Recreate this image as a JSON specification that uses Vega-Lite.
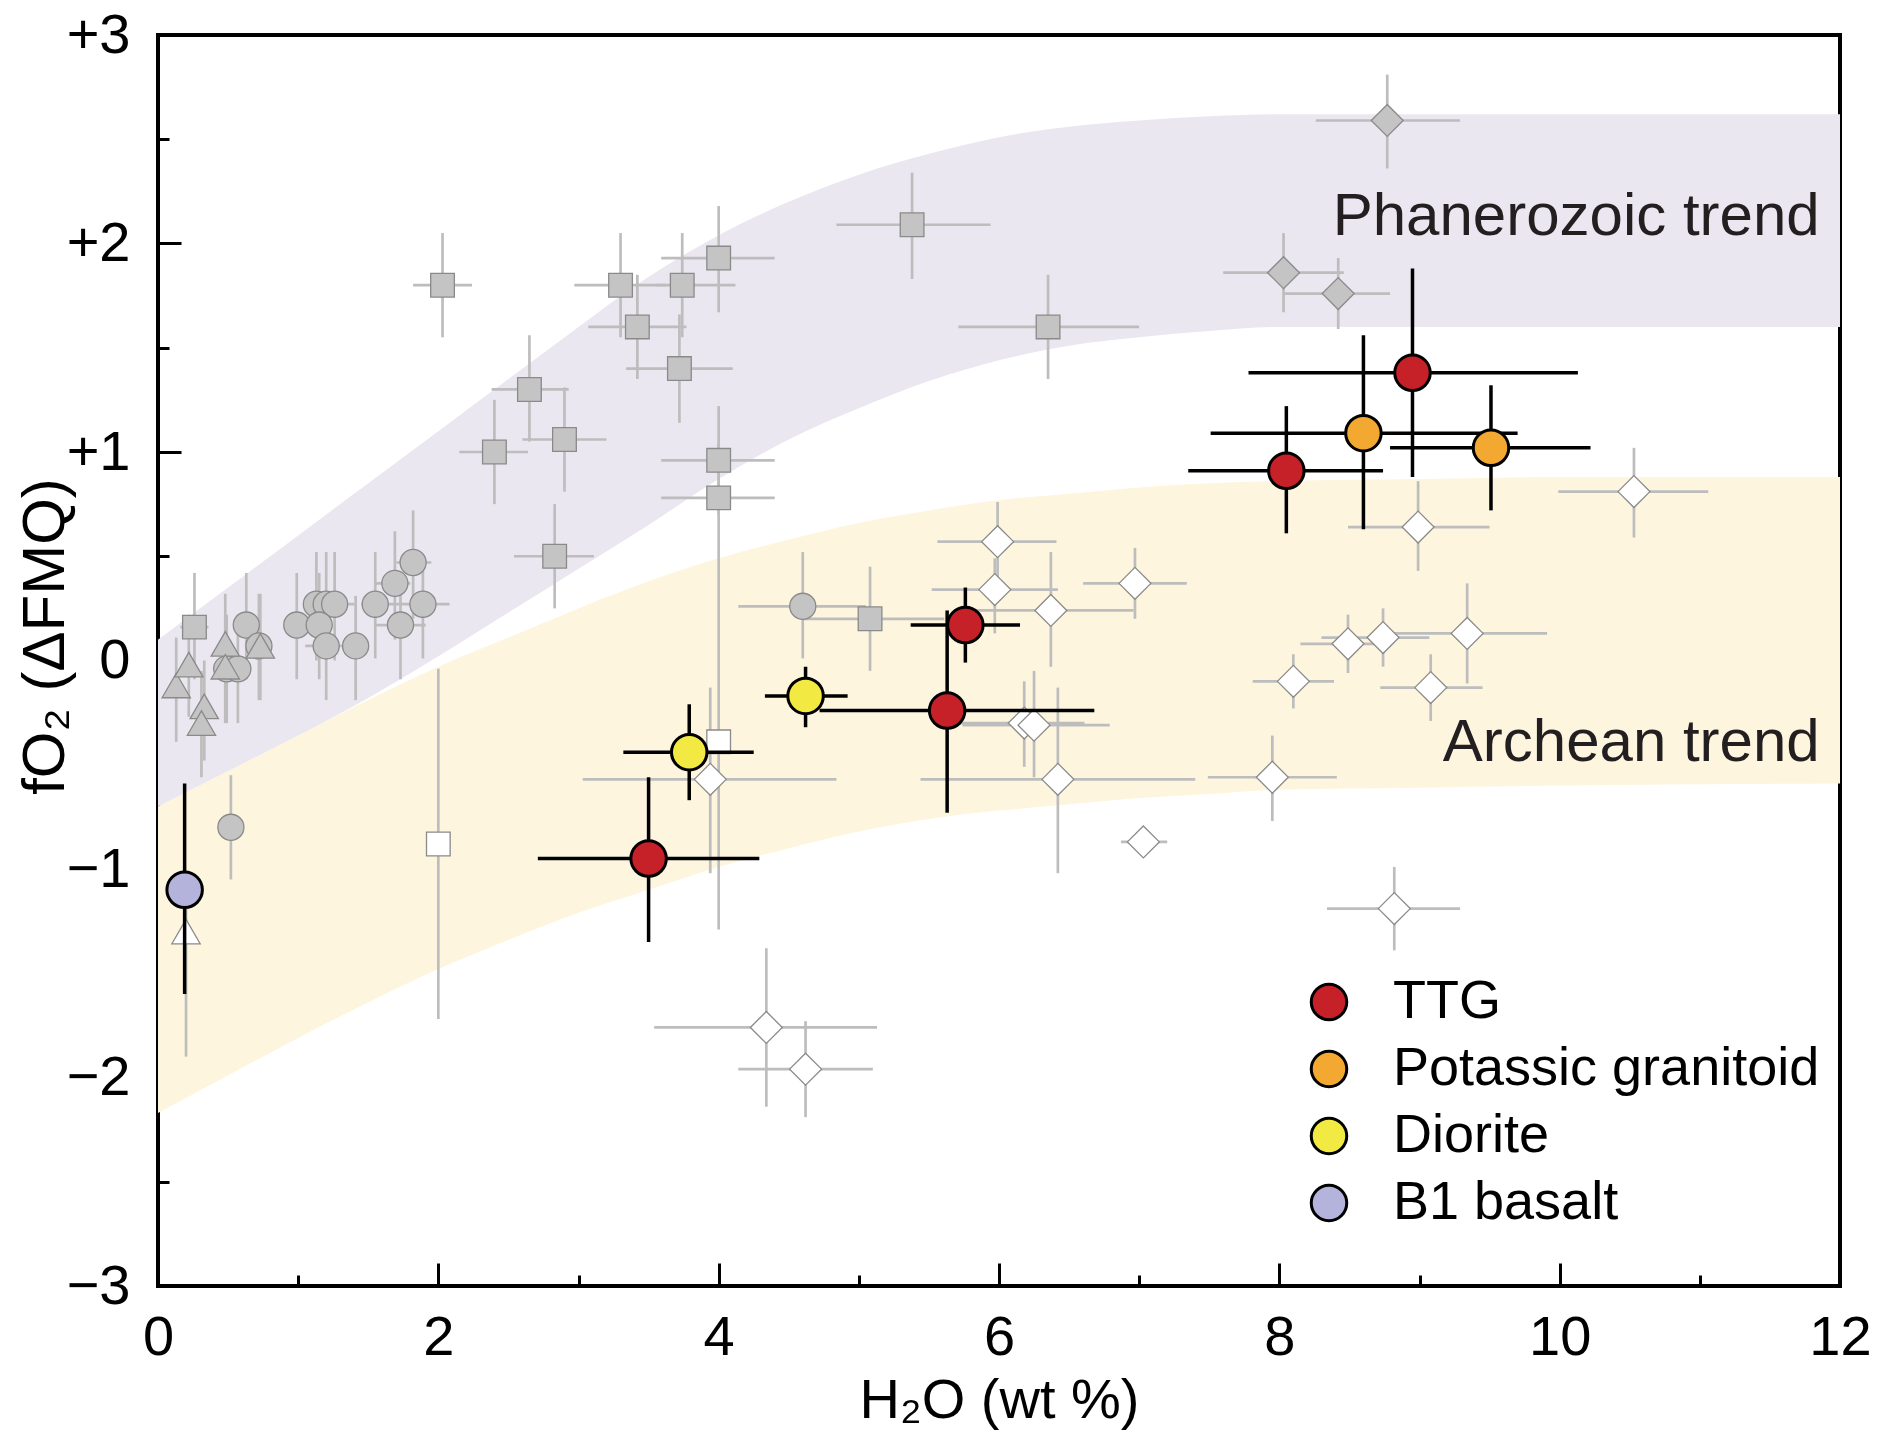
{
  "$schema": "https://vega.github.io/schema/vega-lite/v6.json",
  "width": 1682,
  "height": 1251,
  "autosize": {"type": "none"},
  "padding": {"left": 158, "top": 35, "right": 42, "bottom": 153},
  "background": "white",
  "config": {
    "font": "Liberation Sans",
    "view": {"stroke": "black", "strokeWidth": 4},
    "axis": {"grid": false, "domain": false, "labelFlush": false, "labelColor": "black", "titleColor": "black", "titleFontWeight": "normal", "tickColor": "black", "tickWidth": 3}
  },
  "resolve": {"axis": {"x": "independent", "y": "independent"}},
  "datasets": {
    "band": [
      {"band": "P", "x": 0, "lo": -0.70, "hi": 0.10},
      {"band": "P", "x": 0.5, "lo": -0.53, "hi": 0.35},
      {"band": "P", "x": 1, "lo": -0.36, "hi": 0.60},
      {"band": "P", "x": 1.5, "lo": -0.18, "hi": 0.85},
      {"band": "P", "x": 2, "lo": 0.02, "hi": 1.10},
      {"band": "P", "x": 2.5, "lo": 0.23, "hi": 1.35},
      {"band": "P", "x": 3, "lo": 0.44, "hi": 1.60},
      {"band": "P", "x": 3.5, "lo": 0.65, "hi": 1.84},
      {"band": "P", "x": 4, "lo": 0.87, "hi": 2.04},
      {"band": "P", "x": 4.5, "lo": 1.06, "hi": 2.20},
      {"band": "P", "x": 5, "lo": 1.21, "hi": 2.33},
      {"band": "P", "x": 5.5, "lo": 1.34, "hi": 2.43},
      {"band": "P", "x": 6, "lo": 1.44, "hi": 2.51},
      {"band": "P", "x": 6.5, "lo": 1.51, "hi": 2.56},
      {"band": "P", "x": 7, "lo": 1.55, "hi": 2.59},
      {"band": "P", "x": 7.5, "lo": 1.58, "hi": 2.61},
      {"band": "P", "x": 8, "lo": 1.60, "hi": 2.62},
      {"band": "P", "x": 9, "lo": 1.60, "hi": 2.62},
      {"band": "P", "x": 10, "lo": 1.60, "hi": 2.62},
      {"band": "P", "x": 12, "lo": 1.60, "hi": 2.62},
      {"band": "A", "x": 0, "lo": -2.17, "hi": -0.70},
      {"band": "A", "x": 0.5, "lo": -1.99, "hi": -0.53},
      {"band": "A", "x": 1, "lo": -1.81, "hi": -0.36},
      {"band": "A", "x": 1.5, "lo": -1.64, "hi": -0.19},
      {"band": "A", "x": 2, "lo": -1.48, "hi": -0.03},
      {"band": "A", "x": 2.5, "lo": -1.34, "hi": 0.11},
      {"band": "A", "x": 3, "lo": -1.21, "hi": 0.25},
      {"band": "A", "x": 3.5, "lo": -1.10, "hi": 0.38},
      {"band": "A", "x": 4, "lo": -0.99, "hi": 0.49},
      {"band": "A", "x": 4.5, "lo": -0.90, "hi": 0.58},
      {"band": "A", "x": 5, "lo": -0.82, "hi": 0.66},
      {"band": "A", "x": 5.5, "lo": -0.76, "hi": 0.72},
      {"band": "A", "x": 6, "lo": -0.72, "hi": 0.77},
      {"band": "A", "x": 6.5, "lo": -0.69, "hi": 0.80},
      {"band": "A", "x": 7, "lo": -0.66, "hi": 0.83},
      {"band": "A", "x": 7.5, "lo": -0.64, "hi": 0.85},
      {"band": "A", "x": 8, "lo": -0.62, "hi": 0.86},
      {"band": "A", "x": 9, "lo": -0.61, "hi": 0.87},
      {"band": "A", "x": 10, "lo": -0.60, "hi": 0.88},
      {"band": "A", "x": 12, "lo": -0.59, "hi": 0.88}
    ],
    "pts": [
      {"g": "gsq", "x": 2.03, "y": 1.80, "xlo": 1.82, "xhi": 2.24, "ylo": 1.55, "yhi": 2.05},
      {"g": "gsq", "x": 3.30, "y": 1.80, "xlo": 2.97, "xhi": 3.62, "ylo": 1.55, "yhi": 2.05},
      {"g": "gsq", "x": 3.74, "y": 1.80, "xlo": 3.55, "xhi": 4.12, "ylo": 1.55, "yhi": 2.05},
      {"g": "gsq", "x": 3.42, "y": 1.60, "xlo": 3.07, "xhi": 3.77, "ylo": 1.35, "yhi": 1.85},
      {"g": "gsq", "x": 3.72, "y": 1.40, "xlo": 3.34, "xhi": 4.10, "ylo": 1.14, "yhi": 1.66},
      {"g": "gsq", "x": 2.65, "y": 1.30, "xlo": 2.38, "xhi": 2.93, "ylo": 1.05, "yhi": 1.56},
      {"g": "gsq", "x": 2.90, "y": 1.06, "xlo": 2.60, "xhi": 3.20, "ylo": 0.81, "yhi": 1.31},
      {"g": "gsq", "x": 2.40, "y": 1.00, "xlo": 2.15, "xhi": 2.64, "ylo": 0.75, "yhi": 1.25},
      {"g": "gsq", "x": 4.00, "y": 1.93, "xlo": 3.59, "xhi": 4.40, "ylo": 1.67, "yhi": 2.18},
      {"g": "gsq", "x": 5.38, "y": 2.09, "xlo": 4.84, "xhi": 5.94, "ylo": 1.83, "yhi": 2.34},
      {"g": "gsq", "x": 6.35, "y": 1.60, "xlo": 5.71, "xhi": 7.00, "ylo": 1.35, "yhi": 1.85},
      {"g": "gsq", "x": 4.00, "y": 0.96, "xlo": 3.59, "xhi": 4.40, "ylo": 0.70, "yhi": 1.22},
      {"g": "gsq", "x": 4.00, "y": 0.78, "xlo": 3.59, "xhi": 4.40, "ylo": 0.52, "yhi": 1.04},
      {"g": "gsq", "x": 2.83, "y": 0.50, "xlo": 2.54, "xhi": 3.11, "ylo": 0.25, "yhi": 0.75},
      {"g": "gsq", "x": 0.26, "y": 0.16, "xlo": 0.16, "xhi": 0.36, "ylo": -0.09, "yhi": 0.42},
      {"g": "gsq", "x": 5.08, "y": 0.20, "xlo": 4.59, "xhi": 5.61, "ylo": -0.05, "yhi": 0.45},
      {"g": "gci", "x": 4.60, "y": 0.26, "xlo": 4.14, "xhi": 5.05, "ylo": 0.01, "yhi": 0.52},
      {"g": "gci", "x": 0.52, "y": -0.80, "xlo": null, "xhi": null, "ylo": -1.05, "yhi": -0.55},
      {"g": "gci", "x": 0.49, "y": -0.04, "xlo": null, "xhi": null, "ylo": -0.30, "yhi": 0.22},
      {"g": "gci", "x": 0.57, "y": -0.04, "xlo": null, "xhi": null, "ylo": -0.30, "yhi": 0.22},
      {"g": "gci", "x": 0.63, "y": 0.17, "xlo": null, "xhi": null, "ylo": -0.09, "yhi": 0.42},
      {"g": "gci", "x": 0.72, "y": 0.07, "xlo": null, "xhi": null, "ylo": -0.19, "yhi": 0.32},
      {"g": "gci", "x": 0.99, "y": 0.17, "xlo": 0.90, "xhi": 1.10, "ylo": -0.09, "yhi": 0.42},
      {"g": "gci", "x": 1.13, "y": 0.27, "xlo": null, "xhi": null, "ylo": 0.00, "yhi": 0.52},
      {"g": "gci", "x": 1.20, "y": 0.27, "xlo": null, "xhi": null, "ylo": 0.00, "yhi": 0.52},
      {"g": "gci", "x": 1.26, "y": 0.27, "xlo": 1.15, "xhi": 1.40, "ylo": 0.00, "yhi": 0.52},
      {"g": "gci", "x": 1.15, "y": 0.17, "xlo": null, "xhi": null, "ylo": -0.09, "yhi": 0.42},
      {"g": "gci", "x": 1.20, "y": 0.07, "xlo": 1.05, "xhi": 1.30, "ylo": -0.19, "yhi": 0.32},
      {"g": "gci", "x": 1.41, "y": 0.07, "xlo": 1.30, "xhi": 1.50, "ylo": -0.19, "yhi": 0.31},
      {"g": "gci", "x": 1.55, "y": 0.27, "xlo": 1.45, "xhi": 1.65, "ylo": 0.01, "yhi": 0.52},
      {"g": "gci", "x": 1.69, "y": 0.37, "xlo": 1.55, "xhi": 1.80, "ylo": 0.10, "yhi": 0.62},
      {"g": "gci", "x": 1.82, "y": 0.47, "xlo": 1.70, "xhi": 1.95, "ylo": 0.20, "yhi": 0.72},
      {"g": "gci", "x": 1.89, "y": 0.27, "xlo": 1.64, "xhi": 2.08, "ylo": 0.01, "yhi": 0.45},
      {"g": "gci", "x": 1.73, "y": 0.17, "xlo": 1.55, "xhi": 1.91, "ylo": -0.09, "yhi": 0.42},
      {"g": "gtr", "x": 0.13, "y": -0.12, "xlo": null, "xhi": null, "ylo": -0.39, "yhi": 0.11},
      {"g": "gtr", "x": 0.22, "y": -0.02, "xlo": null, "xhi": null, "ylo": -0.27, "yhi": 0.22},
      {"g": "gtr", "x": 0.33, "y": -0.22, "xlo": null, "xhi": null, "ylo": -0.48, "yhi": 0.00},
      {"g": "gtr", "x": 0.31, "y": -0.30, "xlo": null, "xhi": null, "ylo": -0.56, "yhi": -0.05},
      {"g": "gtr", "x": 0.48, "y": 0.08, "xlo": null, "xhi": null, "ylo": -0.30, "yhi": 0.32},
      {"g": "gtr", "x": 0.48, "y": -0.03, "xlo": null, "xhi": null, "ylo": -0.30, "yhi": 0.20},
      {"g": "gtr", "x": 0.73, "y": 0.07, "xlo": null, "xhi": null, "ylo": -0.19, "yhi": 0.32},
      {"g": "gdi", "x": 8.03, "y": 1.86, "xlo": 7.60, "xhi": 8.46, "ylo": 1.67, "yhi": 2.05},
      {"g": "gdi", "x": 8.42, "y": 1.76, "xlo": 8.03, "xhi": 8.79, "ylo": 1.59, "yhi": 1.93},
      {"g": "gdi", "x": 8.77, "y": 2.59, "xlo": 8.26, "xhi": 9.29, "ylo": 2.36, "yhi": 2.81},
      {"g": "wdi", "x": 5.99, "y": 0.57, "xlo": 5.56, "xhi": 6.41, "ylo": 0.37, "yhi": 0.76},
      {"g": "wdi", "x": 5.97, "y": 0.34, "xlo": 5.52, "xhi": 6.42, "ylo": 0.13, "yhi": 0.49},
      {"g": "wdi", "x": 6.37, "y": 0.24, "xlo": 5.80, "xhi": 6.96, "ylo": -0.03, "yhi": 0.52},
      {"g": "wdi", "x": 6.97, "y": 0.37, "xlo": 6.60, "xhi": 7.34, "ylo": 0.20, "yhi": 0.54},
      {"g": "wdi", "x": 6.18, "y": -0.30, "xlo": 5.71, "xhi": 6.61, "ylo": -0.51, "yhi": -0.10},
      {"g": "wdi", "x": 6.25, "y": -0.31, "xlo": 5.74, "xhi": 6.79, "ylo": -0.56, "yhi": -0.05},
      {"g": "wdi", "x": 6.42, "y": -0.57, "xlo": 5.44, "xhi": 7.40, "ylo": -1.02, "yhi": -0.13},
      {"g": "wdi", "x": 7.03, "y": -0.87, "xlo": 6.87, "xhi": 7.20, "ylo": null, "yhi": null},
      {"g": "wdi", "x": 7.95, "y": -0.56, "xlo": 7.49, "xhi": 8.41, "ylo": -0.77, "yhi": -0.36},
      {"g": "wdi", "x": 8.10, "y": -0.10, "xlo": 7.81, "xhi": 8.39, "ylo": -0.23, "yhi": 0.03},
      {"g": "wdi", "x": 3.94, "y": -0.57, "xlo": 3.03, "xhi": 4.84, "ylo": -1.02, "yhi": -0.13},
      {"g": "wdi", "x": 10.53, "y": 0.81, "xlo": 9.99, "xhi": 11.06, "ylo": 0.59, "yhi": 1.02},
      {"g": "wdi", "x": 8.99, "y": 0.64, "xlo": 8.49, "xhi": 9.50, "ylo": 0.43, "yhi": 0.86},
      {"g": "wdi", "x": 9.34, "y": 0.13, "xlo": 8.77, "xhi": 9.91, "ylo": -0.11, "yhi": 0.37},
      {"g": "wdi", "x": 8.74, "y": 0.11, "xlo": 8.30, "xhi": 9.07, "ylo": -0.03, "yhi": 0.25},
      {"g": "wdi", "x": 8.49, "y": 0.08, "xlo": 8.15, "xhi": 8.75, "ylo": -0.06, "yhi": 0.22},
      {"g": "wdi", "x": 9.08, "y": -0.13, "xlo": 8.72, "xhi": 9.45, "ylo": -0.29, "yhi": 0.03},
      {"g": "wdi", "x": 8.82, "y": -1.19, "xlo": 8.34, "xhi": 9.29, "ylo": -1.39, "yhi": -0.99},
      {"g": "wdi", "x": 4.34, "y": -1.76, "xlo": 3.54, "xhi": 5.13, "ylo": -2.14, "yhi": -1.38},
      {"g": "wdi", "x": 4.62, "y": -1.96, "xlo": 4.14, "xhi": 5.10, "ylo": -2.19, "yhi": -1.73},
      {"g": "wsq", "x": 2.00, "y": -0.88, "xlo": null, "xhi": null, "ylo": -1.72, "yhi": -0.04},
      {"g": "wsq", "x": 4.00, "y": -0.39, "xlo": null, "xhi": null, "ylo": -1.29, "yhi": 0.52},
      {"g": "wtr", "x": 0.20, "y": -1.30, "xlo": null, "xhi": null, "ylo": -1.90, "yhi": -1.10},
      {"g": "TTG", "x": 8.95, "y": 1.38, "xlo": 7.78, "xhi": 10.13, "ylo": 0.88, "yhi": 1.88},
      {"g": "TTG", "x": 8.05, "y": 0.91, "xlo": 7.35, "xhi": 8.74, "ylo": 0.61, "yhi": 1.22},
      {"g": "TTG", "x": 5.76, "y": 0.17, "xlo": 5.37, "xhi": 6.15, "ylo": -0.01, "yhi": 0.35},
      {"g": "TTG", "x": 5.63, "y": -0.24, "xlo": 4.72, "xhi": 6.68, "ylo": -0.73, "yhi": 0.24},
      {"g": "TTG", "x": 3.50, "y": -0.95, "xlo": 2.71, "xhi": 4.29, "ylo": -1.35, "yhi": -0.56},
      {"g": "Potassic granitoid", "x": 8.60, "y": 1.09, "xlo": 7.51, "xhi": 9.70, "ylo": 0.63, "yhi": 1.56},
      {"g": "Potassic granitoid", "x": 9.51, "y": 1.02, "xlo": 8.79, "xhi": 10.22, "ylo": 0.72, "yhi": 1.32},
      {"g": "Diorite", "x": 4.62, "y": -0.17, "xlo": 4.33, "xhi": 4.92, "ylo": -0.32, "yhi": -0.03},
      {"g": "Diorite", "x": 3.79, "y": -0.44, "xlo": 3.32, "xhi": 4.25, "ylo": -0.67, "yhi": -0.21},
      {"g": "B1 basalt", "x": 0.19, "y": -1.10, "xlo": null, "xhi": null, "ylo": -1.60, "yhi": -0.59}
    ]
  },
  "layer": [
    {
      "data": {"name": "band"},
      "transform": [{"filter": "datum.band === 'A'"}],
      "mark": {"type": "area", "color": "#fdf5de", "interpolate": "monotone", "opacity": 1},
      "encoding": {
        "x": {"field": "x", "type": "quantitative", "scale": {"domain": [0, 12], "nice": false, "zero": false},
          "axis": {"orient": "bottom", "values": [0, 2, 4, 6, 8, 10, 12], "tickSize": -23,
            "labelFontSize": 56, "labelPadding": 47, "title": "H₂O (wt %)", "titleFontSize": 56, "titlePadding": 8}},
        "y": {"field": "lo", "type": "quantitative", "scale": {"domain": [-3, 3], "nice": false, "zero": false},
          "axis": {"orient": "left", "values": [-3, -2, -1, 0, 1, 2, 3], "tickSize": -23,
            "labelExpr": "datum.value > 0 ? '+' + datum.value : (datum.value < 0 ? '−' + abs(datum.value) : '0')",
            "labelFontSize": 56, "labelPadding": 51, "title": "fO₂ (ΔFMQ)", "titleFontSize": 60, "titlePadding": -10, "titleY": 601}},
        "y2": {"field": "hi"}
      }
    },
    {
      "data": {"name": "band"},
      "transform": [{"filter": "datum.band === 'P'"}],
      "mark": {"type": "area", "color": "#ebe7f0", "interpolate": "monotone", "opacity": 1},
      "encoding": {
        "x": {"field": "x", "type": "quantitative",
          "axis": {"orient": "bottom", "values": [1, 3, 5, 7, 9, 11], "tickSize": -11, "labels": false, "title": null}},
        "y": {"field": "lo", "type": "quantitative",
          "axis": {"orient": "left", "values": [-2.5, -1.5, -0.5, 0.5, 1.5, 2.5], "tickSize": -11, "labels": false, "title": null}},
        "y2": {"field": "hi"}
      }
    },
    {
      "data": {"name": "pts"},
      "transform": [{"filter": "indexof(['TTG','Potassic granitoid','Diorite','B1 basalt'], datum.g) < 0 && isValid(datum.xlo)"}],
      "mark": {"type": "rule", "color": "#bdbdbd", "strokeWidth": 2.7},
      "encoding": {
        "x": {"field": "xlo", "type": "quantitative", "axis": null},
        "x2": {"field": "xhi"},
        "y": {"field": "y", "type": "quantitative", "axis": null}
      }
    },
    {
      "data": {"name": "pts"},
      "transform": [{"filter": "indexof(['TTG','Potassic granitoid','Diorite','B1 basalt'], datum.g) < 0 && isValid(datum.ylo)"}],
      "mark": {"type": "rule", "color": "#bdbdbd", "strokeWidth": 2.7},
      "encoding": {
        "x": {"field": "x", "type": "quantitative", "axis": null},
        "y": {"field": "ylo", "type": "quantitative", "axis": null},
        "y2": {"field": "yhi"}
      }
    },
    {
      "data": {"name": "pts"},
      "transform": [{"filter": "datum.g === 'gci'"}],
      "mark": {"type": "point", "shape": "circle", "filled": true, "size": 680, "fill": "#c4c4c4", "stroke": "#8a8a8a", "strokeWidth": 1.3, "opacity": 1},
      "encoding": {
        "x": {"field": "x", "type": "quantitative", "axis": null},
        "y": {"field": "y", "type": "quantitative", "axis": null}
      }
    },
    {
      "data": {"name": "pts"},
      "transform": [{"filter": "datum.g === 'gtr' || datum.g === 'wtr'"}],
      "mark": {"type": "point", "shape": "triangle-up", "filled": true, "size": 800, "stroke": "#8a8a8a", "strokeWidth": 1.3, "opacity": 1},
      "encoding": {
        "x": {"field": "x", "type": "quantitative", "axis": null},
        "y": {"field": "y", "type": "quantitative", "axis": null},
        "fill": {"condition": {"test": "datum.g === 'wtr'", "value": "white"}, "value": "#c4c4c4"}
      }
    },
    {
      "data": {"name": "pts"},
      "transform": [{"filter": "datum.g === 'gsq' || datum.g === 'wsq'"}],
      "mark": {"type": "point", "shape": "square", "filled": true, "size": 560, "stroke": "#8a8a8a", "strokeWidth": 1.3, "opacity": 1},
      "encoding": {
        "x": {"field": "x", "type": "quantitative", "axis": null},
        "y": {"field": "y", "type": "quantitative", "axis": null},
        "fill": {"condition": {"test": "datum.g === 'wsq'", "value": "white"}, "value": "#c4c4c4"}
      }
    },
    {
      "data": {"name": "pts"},
      "transform": [{"filter": "datum.g === 'gdi' || datum.g === 'wdi'"}],
      "mark": {"type": "point", "shape": "diamond", "filled": true, "size": 1020, "stroke": "#8a8a8a", "strokeWidth": 1.3, "opacity": 1},
      "encoding": {
        "x": {"field": "x", "type": "quantitative", "axis": null},
        "y": {"field": "y", "type": "quantitative", "axis": null},
        "fill": {"condition": {"test": "datum.g === 'wdi'", "value": "white"}, "value": "#c4c4c4"}
      }
    },
    {
      "data": {"name": "pts"},
      "transform": [{"filter": "indexof(['TTG','Potassic granitoid','Diorite','B1 basalt'], datum.g) >= 0 && isValid(datum.xlo)"}],
      "mark": {"type": "rule", "color": "black", "strokeWidth": 3.5},
      "encoding": {
        "x": {"field": "xlo", "type": "quantitative", "axis": null},
        "x2": {"field": "xhi"},
        "y": {"field": "y", "type": "quantitative", "axis": null}
      }
    },
    {
      "data": {"name": "pts"},
      "transform": [{"filter": "indexof(['TTG','Potassic granitoid','Diorite','B1 basalt'], datum.g) >= 0 && isValid(datum.ylo)"}],
      "mark": {"type": "rule", "color": "black", "strokeWidth": 3.5},
      "encoding": {
        "x": {"field": "x", "type": "quantitative", "axis": null},
        "y": {"field": "ylo", "type": "quantitative", "axis": null},
        "y2": {"field": "yhi"}
      }
    },
    {
      "data": {"name": "pts"},
      "transform": [{"filter": "indexof(['TTG','Potassic granitoid','Diorite','B1 basalt'], datum.g) >= 0"}],
      "mark": {"type": "point", "shape": "circle", "filled": true, "size": 1260, "stroke": "black", "strokeWidth": 3, "opacity": 1},
      "encoding": {
        "x": {"field": "x", "type": "quantitative", "axis": null},
        "y": {"field": "y", "type": "quantitative", "axis": null},
        "fill": {"field": "g", "type": "nominal",
          "scale": {"domain": ["TTG", "Potassic granitoid", "Diorite", "B1 basalt"], "range": ["#c62028", "#f2a831", "#f2ea42", "#b3b3dc"]},
          "legend": {"title": null, "orient": "none", "legendX": 1144, "legendY": 940, "padding": 0,
            "symbolType": "circle", "symbolSize": 1260, "symbolStrokeColor": "black", "symbolStrokeWidth": 3, "symbolOpacity": 1,
            "labelFontSize": 54, "labelColor": "black", "labelOffset": 37, "rowPadding": 13, "labelLimit": 0}}
      }
    },
    {
      "data": {"values": [{}]},
      "mark": {"type": "text", "align": "right", "baseline": "alphabetic", "fontSize": 60, "color": "#231f20"},
      "encoding": {
        "x": {"datum": 11.855, "type": "quantitative", "axis": null},
        "y": {"datum": 2.04, "type": "quantitative", "axis": null},
        "text": {"value": "Phanerozoic trend"}
      }
    },
    {
      "data": {"values": [{}]},
      "mark": {"type": "text", "align": "right", "baseline": "alphabetic", "fontSize": 60, "color": "#231f20"},
      "encoding": {
        "x": {"datum": 11.855, "type": "quantitative", "axis": null},
        "y": {"datum": -0.48, "type": "quantitative", "axis": null},
        "text": {"value": "Archean trend"}
      }
    }
  ]
}
